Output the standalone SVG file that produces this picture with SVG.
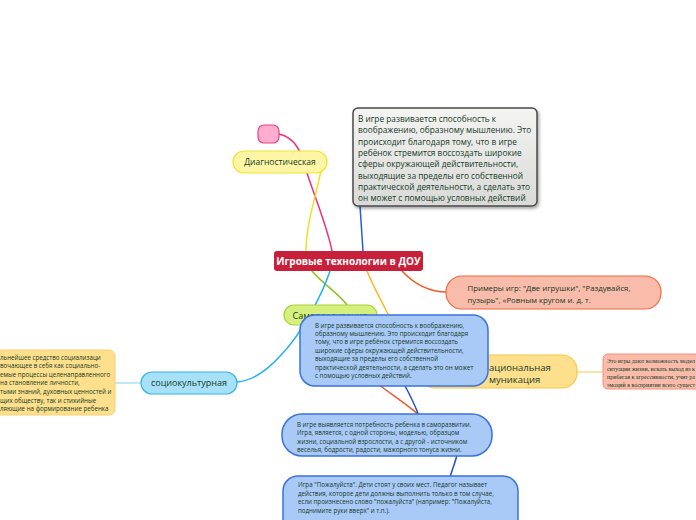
<svg xmlns="http://www.w3.org/2000/svg" width="696" height="520" viewBox="0 0 696 520">
<defs>
<linearGradient id="gray" x1="0" y1="0" x2="0" y2="1">
<stop offset="0" stop-color="#f4f4f2"/>
<stop offset="1" stop-color="#d9dad8"/>
</linearGradient>
<filter id="sh" x="-10%" y="-10%" width="125%" height="130%">
<feDropShadow dx="1.5" dy="2" stdDeviation="1.5" flood-color="#000" flood-opacity="0.35"/>
</filter>
</defs>
<style>
text{font-family:"Open Sans","Noto Sans","DejaVu Sans",sans-serif;fill:#163a26}
.c{fill:none;stroke-width:1.5;stroke-linecap:round}
.sm{font-size:6.2px}
.blue{fill:#a9c9f7;stroke:#3a73e0;stroke-width:1.5}
.serif text{font-family:"Liberation Serif","Times New Roman",serif;font-size:5.6px}
</style>
<rect width="696" height="520" fill="#ffffff"/>
<g id="connectors">
<path class="c" stroke="#f0307a" d="M279 134 C296 138 301 152 306 170 C315 198 327 226 332 251"/>
<path class="c" stroke="#f2e024" d="M321 171 C316 195 306 225 306 251"/>
<path class="c" stroke="#2060e0" d="M360 206 C361 222 362 238 363 251"/>
<path class="c" stroke="#f05a2a" d="M402 271 C415 285 430 292 447 292"/>
<path class="c" stroke="#8ec020" d="M312 271 C324 285 338 293 347 305"/>
<path class="c" stroke="#20b0f0" d="M330 271 C322 295 302 333 282 354 C266 372 252 381 237 382"/>
<path class="c" stroke="#f8b820" d="M367 271 C374 288 382 302 390 318 C400 340 420 365 440 371"/>
<path class="c" stroke="#a6e1f7" d="M141 383 L115 383"/>
<path class="c" stroke="#fdd98a" d="M577 372 L603 372"/>
<path class="c" stroke="#f05a2a" d="M378 384 C392 395 408 405 420 416"/>
<path class="c" stroke="#2050d0" d="M404 384 C410 395 415 405 419 416"/>
<path class="c" stroke="#2050d0" d="M457 455 C455 463 452 470 450 477"/>
</g>
<g id="pink">
<rect x="258" y="125" width="21" height="18" rx="6" fill="#ffaed2" stroke="#f0407e" stroke-width="1.2"/>
</g>
<g id="diag">
<rect x="233" y="151" width="94" height="22" rx="11" fill="#fff6a5" stroke="#f2e23a" stroke-width="1.2"/>
<text x="280" y="165" font-size="8.5" text-anchor="middle">Диагностическая</text>
</g>
<g id="info-gray">
<rect x="353" y="108" width="184" height="98" rx="5" fill="url(#gray)" stroke="#4a4a4a" stroke-width="1.5" filter="url(#sh)"/>
<g font-size="8.3">
<text x="358" y="122">В игре развивается способность к</text>
<text x="358" y="133.3">воображению, образному мышлению. Это</text>
<text x="358" y="144.6">происходит благодаря тому, что в игре</text>
<text x="358" y="155.9">ребёнок стремится воссоздать широкие</text>
<text x="358" y="167.2">сферы окружающей действительности,</text>
<text x="358" y="178.5">выходящие за пределы его собственной</text>
<text x="358" y="189.8">практической деятельности, а сделать это</text>
<text x="358" y="201.1">он может с помощью условных действий</text>
</g>
</g>
<g id="central">
<rect x="274" y="251" width="149" height="20" rx="3" fill="#c8203a"/>
<text x="348.5" y="264.5" font-size="10" font-weight="bold" text-anchor="middle" style="fill:#ffffff">Игровые технологии в ДОУ</text>
</g>
<g id="examples">
<rect x="446" y="276" width="215" height="33" rx="16" fill="#f9bcaa" stroke="#f06a3a" stroke-width="1.2"/>
<text x="467.5" y="291" font-size="7.8">Примеры игр:  "Две игрушки", "Раздувайся,</text>
<text x="467.5" y="302.5" font-size="7.8">пузырь", «Ровным кругом и. д. т.</text>
</g>
<g id="samo">
<rect x="284" y="305" width="93" height="20" rx="10" fill="#d6f07e" stroke="#a8d23a" stroke-width="1.2"/>
<text x="330" y="318.5" font-size="9" text-anchor="middle">Самореализация</text>
</g>
<g id="nat">
<rect x="420" y="355" width="157" height="33" rx="15" fill="#fddf8c" stroke="#f8c64a" stroke-width="1.2"/>
<text x="489" y="370.5" font-size="9.5">ациональная</text>
<text x="489" y="382.5" font-size="9.5">муникация</text>
</g>
<g id="nat-note">
<rect x="603" y="354" width="110" height="35" rx="5" fill="#f9bcaa" stroke="#f4907a" stroke-width="1"/>
<g class="serif">
<text x="607" y="363" textLength="88" lengthAdjust="spacingAndGlyphs">Это игры дают возможность модел</text>
<text x="607" y="371" textLength="88" lengthAdjust="spacingAndGlyphs">ситуации жизни, искать выход из к</text>
<text x="607" y="379" textLength="88" lengthAdjust="spacingAndGlyphs">прибегая к агрессивности, учит ра</text>
<text x="607" y="387" textLength="88" lengthAdjust="spacingAndGlyphs">эмоций в восприятии всего сущест</text>
</g>
</g>
<g id="box1">
<rect class="blue" x="300" y="315" width="188" height="71" rx="15"/>
<g class="sm">
<text x="315" y="327.5">В игре развивается способность к воображению,</text>
<text x="315" y="335.9">образному мышлению. Это происходит благодаря</text>
<text x="315" y="344.3">тому, что в игре ребёнок стремится воссоздать</text>
<text x="315" y="352.7">широкие сферы окружающей действительности,</text>
<text x="315" y="361.1">выходящие за пределы его собственной</text>
<text x="315" y="369.5">практической деятельности, а сделать это он может</text>
<text x="315" y="377.9">с помощью условных действий.</text>
</g>
</g>
<g id="socio">
<rect x="141" y="372" width="96" height="22" rx="11" fill="#a6e1f7" stroke="#36b3ea" stroke-width="1.2"/>
<text x="189" y="386" font-size="9" text-anchor="middle">социокультурная</text>
</g>
<g id="socio-note">
<rect x="-10" y="350" width="125" height="65" rx="6" fill="#fddf8c" stroke="#f8d070" stroke-width="1"/>
<g class="sm">
<text x="0" y="359.5">льнейшее средство социализаци</text>
<text x="0" y="368.1">вочающее в себя как социально-</text>
<text x="0" y="376.7">емые процессы целенаправленного</text>
<text x="0" y="385.3"> на становление личности,</text>
<text x="0" y="393.9">тыми знаний, духовных ценностей и</text>
<text x="0" y="402.5">щих обществу, так и стихийные</text>
<text x="0" y="411.1">ляющие на формирование ребенка</text>
</g>
</g>
<g id="box2">
<rect class="blue" x="282" y="414" width="210" height="42" rx="20"/>
<g class="sm">
<text x="297" y="426.5">В игре выявляется потребность ребенка в саморазвитии.</text>
<text x="297" y="435">Игра, является, с одной стороны, моделью, образцом</text>
<text x="297" y="443.5">жизни, социальной взрослости, а с другой - источником</text>
<text x="297" y="452">веселья, бодрости, радости, мажорного тонуса жизни.</text>
</g>
</g>
<g id="box3">
<rect class="blue" x="283" y="476" width="235" height="60" rx="15"/>
<g class="sm">
<text x="298" y="487">Игра "Пожалуйста". Дети стоят у своих мест. Педагог называет</text>
<text x="298" y="495.5">действия, которое дети должны выполнить только в том случае,</text>
<text x="298" y="504">если произнесено слово "пожалуйста" (например: "Пожалуйста,</text>
<text x="298" y="512.5">поднимите руки вверх" и т.п.).</text>
</g>
</g>
</svg>
